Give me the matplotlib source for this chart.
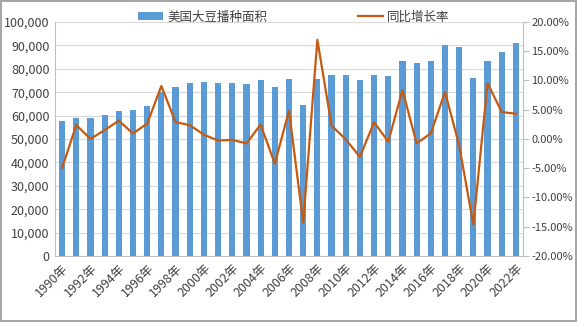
import matplotlib.pyplot as plt
import numpy as np
from matplotlib.ticker import FuncFormatter, MultipleLocator

plt.rcParams['font.family'] = ['Noto Sans CJK SC', 'DejaVu Sans']

years = [str(y) + '年' for y in range(1990, 2023)]
# 播种面积（千英亩）
area = [57795, 59180, 59180, 60085, 61965, 62545, 64195, 70005, 72025, 73730,
        74266, 74075, 73963, 73404, 75208, 72032, 75522, 64741, 75718, 77451,
        77404, 75046, 77198, 76840, 83276, 82650, 83453, 90162, 89167, 76100,
        83354, 87195, 90955]
# 同比增长率（%）
growth = [-4.97, 2.40, 0.00, 1.53, 3.13, 0.94, 2.64, 9.05, 2.89, 2.37,
          0.73, -0.26, -0.15, -0.76, 2.46, -4.22, 4.85, -14.28, 16.96, 2.29,
          -0.06, -3.05, 2.87, -0.46, 8.38, -0.75, 0.97, 8.04, -1.10, -14.65,
          9.53, 4.61, 4.31]

bar_color = '#5B9BD5'
line_color = '#C55A11'
axis_grey = '#BFBFBF'
text_color = '#404040'
fs = 9

fig = plt.figure(figsize=(5.77, 3.22), dpi=100)
fig.patch.set_edgecolor('#A6A6A6')
fig.patch.set_linewidth(1.5)
ax = fig.add_axes([55 / 577, 1 - 256 / 322, 468 / 577, 234 / 322])
x = np.arange(len(years))

ax.bar(x, area, width=0.43, color=bar_color, zorder=2, label='美国大豆播种面积')
ax.set_xlim(-0.5, len(years) - 0.5)
ax.set_ylim(0, 100000)
ax.yaxis.set_major_locator(MultipleLocator(10000))
ax.yaxis.set_major_formatter(FuncFormatter(lambda v, p: f'{int(v):,}'))
ax.grid(axis='y', color='#D9D9D9', linewidth=0.8, zorder=0)
ax.set_axisbelow(True)
ax.set_xticks(x[::2])
ax.set_xticklabels(years[::2], rotation=45, ha='right', rotation_mode='anchor')
ax.tick_params(axis='x', length=0, pad=4, labelsize=fs, colors=text_color)
ax.tick_params(axis='y', length=0, pad=4, labelsize=fs, colors=text_color)
for side in ['top', 'right']:
    ax.spines[side].set_visible(False)
for side in ['left', 'bottom']:
    ax.spines[side].set_color(axis_grey)

ax2 = ax.twinx()
ax2.plot(x, growth, color=line_color, linewidth=1.6, zorder=3, label='同比增长率')
ax2.set_ylim(-20, 20)
ax2.yaxis.set_major_locator(MultipleLocator(5))
ax2.yaxis.set_major_formatter(FuncFormatter(lambda v, p: f'{v:.2f}%'))
ax2.tick_params(axis='y', length=4, direction='out', color=axis_grey, pad=2,
                labelsize=8, colors=text_color)
for side in ['top', 'left', 'bottom']:
    ax2.spines[side].set_visible(False)
ax2.spines['right'].set_color(axis_grey)

h1, l1 = ax.get_legend_handles_labels()
h2, l2 = ax2.get_legend_handles_labels()
fig.legend(h1 + h2, l1 + l2, loc='center', bbox_to_anchor=(294 / 577, 1 - 17 / 322),
           ncol=2, frameon=False, fontsize=fs, columnspacing=7.3, handlelength=2.0,
           handleheight=0.6, handletextpad=0.3, labelcolor=text_color)

fig.savefig('out.png', dpi=100, edgecolor=fig.get_edgecolor())
